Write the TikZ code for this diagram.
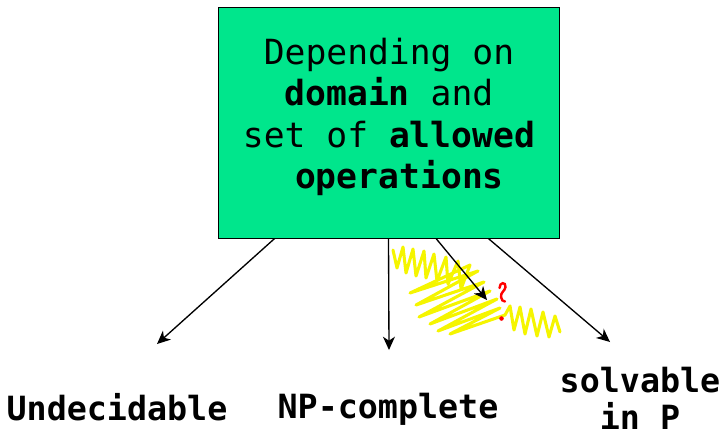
\documentclass[tikz,border=0pt]{standalone}
\usepackage{fontspec}
\setmonofont{DejaVu Sans Mono}
\usetikzlibrary{arrows.meta,calc}
\definecolor{boxgreen}{RGB}{0,230,140}
\definecolor{scrib}{RGB}{245,245,0}
\begin{document}
\begin{tikzpicture}[x=0.75pt,y=-0.75pt,
  lbl/.style={font=\ttfamily\bfseries\fontsize{25}{28}\selectfont, inner sep=0pt, align=center},
  arr/.style={-{Stealth[length=10pt,width=9pt,inset=3pt]}, line width=1pt},
  scribble/.style={draw=scrib, line width=2.3pt, line join=round, line cap=round}]
\useasboundingbox (0,0) rectangle (723,436);
% box
\node[draw, fill=boxgreen, minimum width=255.75pt, minimum height=173.25pt, inner sep=0pt, line width=0.75pt] (box) at (388.5,122.5) {};
\node[font=\ttfamily\fontsize{26}{31}\selectfont, align=center, inner sep=0pt] (txt) at (389,117)
  {Depending on\\\textbf{domain} and\\set of \textbf{allowed}\\~\textbf{operations}};
% scribble
\draw[scribble] (393,250) -- (397,268) -- (403,247) -- (406,273) -- (413,249) -- (416,276) -- (424,251) -- (426,278) -- (434,254) -- (437,281) -- (446,257) -- (448,284) -- (458,261) -- (461,289) -- (470,265)
  -- (410,293) -- (478,271) -- (416,305) -- (484,282) -- (419,317) -- (490,291) -- (430,324) -- (497,299) -- (438,331) -- (500,308) -- (450,334) -- (505,315)
  -- (510,306) -- (514,330) -- (520,307) -- (525,334) -- (531,309) -- (537,336) -- (543,312) -- (549,337) -- (555,316) -- (560,332);
% bottom labels
\node[lbl] (und) at (117,407) {Undecidable};
\node[lbl] (npc) at (388,409) {NP-complete};
\node[lbl] (sol) at (640,398) {solvable\\in P};
% arrow end points
\coordinate (e1) at (157,344);
\coordinate (e2) at (389,350);
\coordinate (e3) at (487,300);
\coordinate (e4) at (610,342);
\draw[arr] ($(box.south west)!0.167!(box.south east)$) -- (e1);
\draw[arr] (box.south) -- (e2);
\draw[arr] ($(box.south west)!0.639!(box.south east)$) -- (e3);
\draw[arr] ($(box.south west)!0.792!(box.south east)$) -- (e4);
% red question mark
\draw[red, line width=1.8pt, line cap=round] (499.5,288) .. controls (499.5,282) and (506,281.5) .. (505.5,287) .. controls (505,291) and (500.5,292) .. (501,297) .. controls (501.3,300) and (503,301.5) .. (505,301.5);
\fill[red] (501.5,318.5) circle (1.7pt);
\end{tikzpicture}
\end{document}
